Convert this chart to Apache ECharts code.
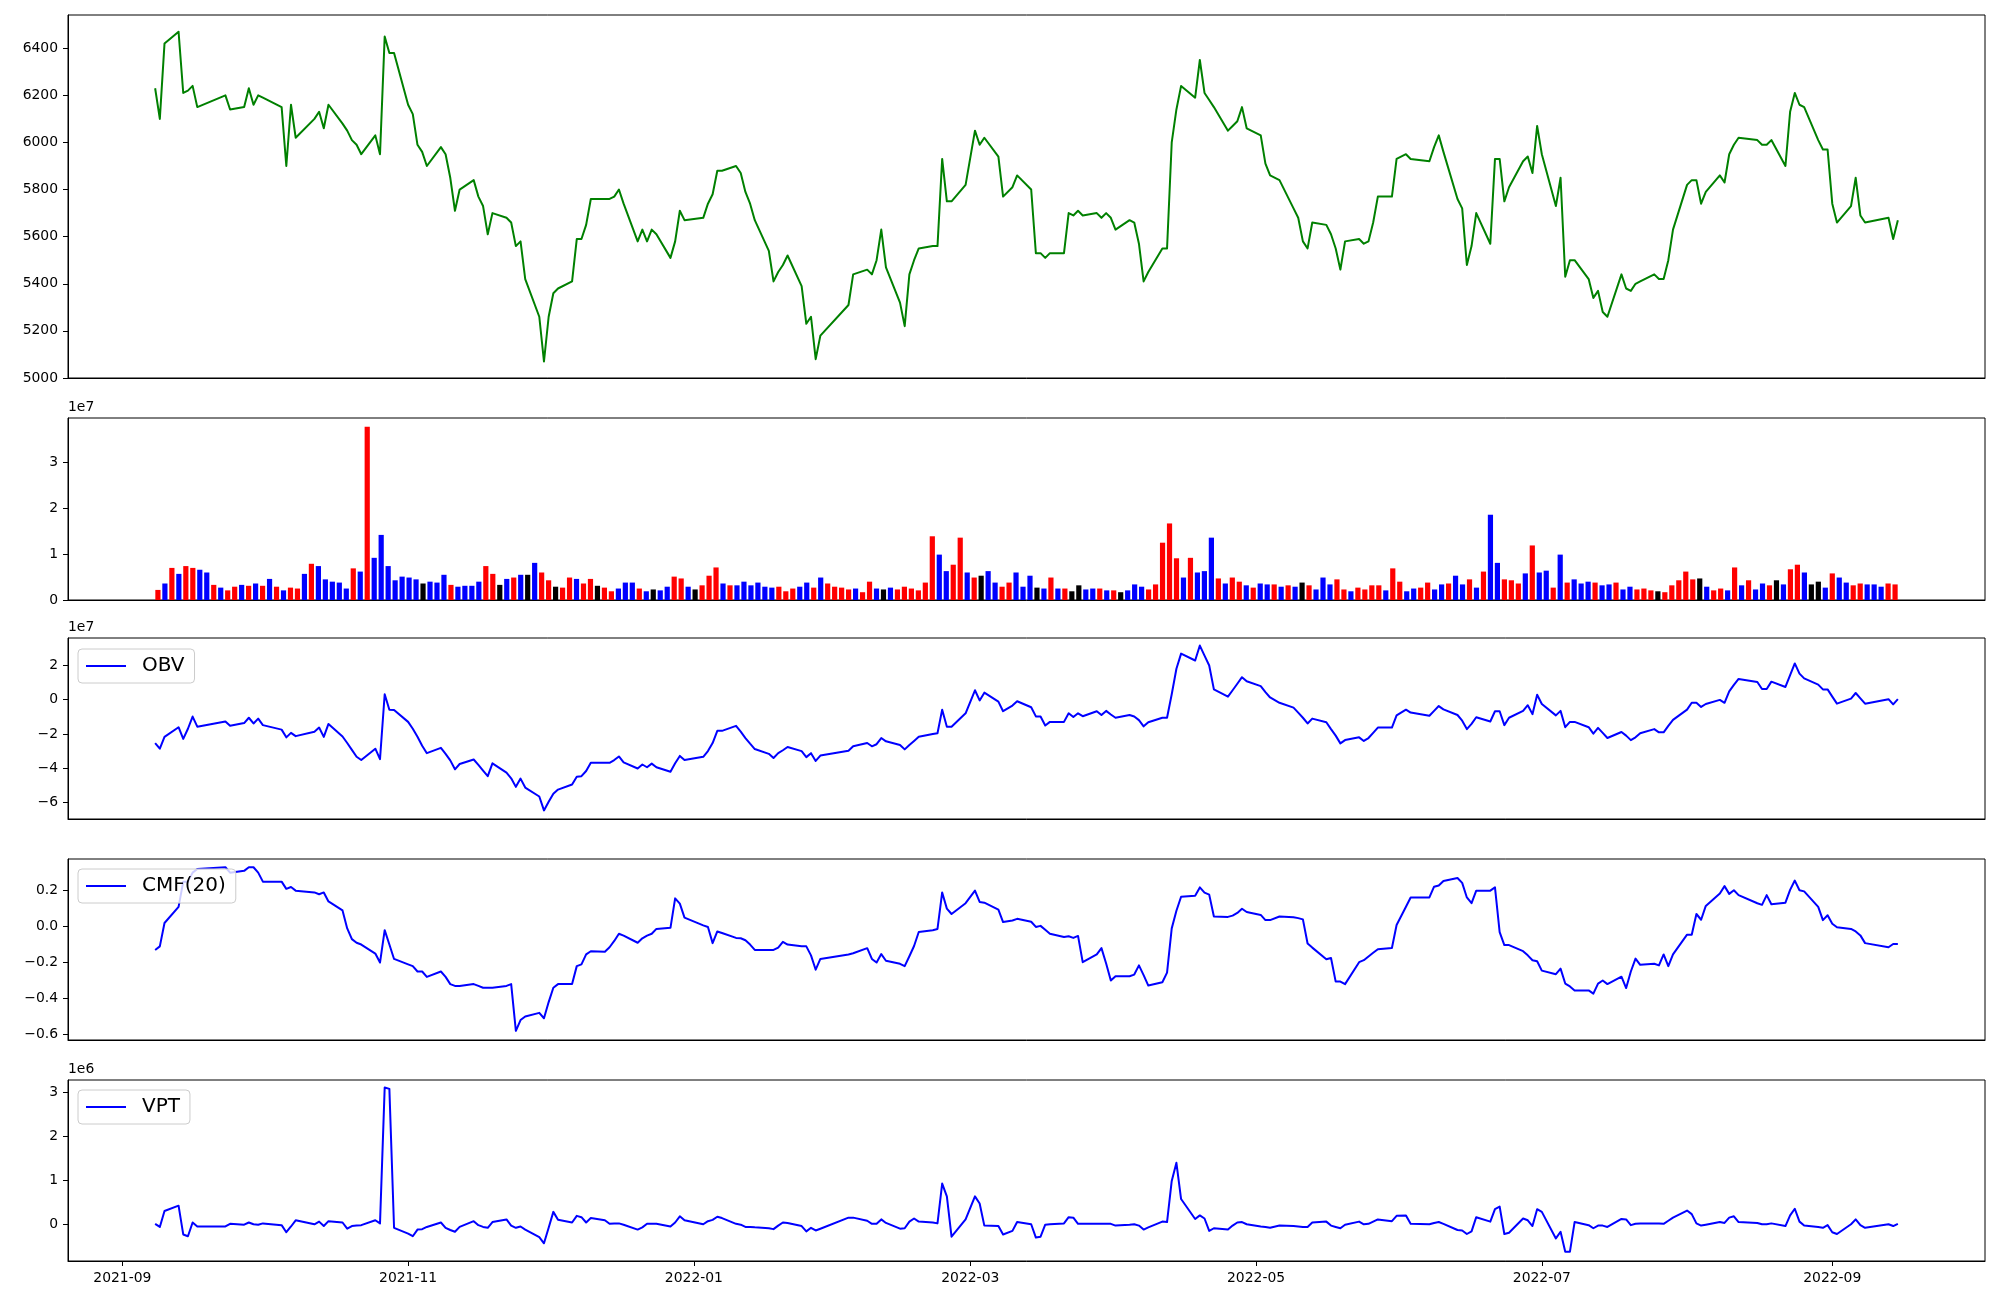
<!DOCTYPE html>
<html>
<head>
<meta charset="utf-8">
<script src="https://cdn.jsdelivr.net/npm/echarts@6/dist/echarts.min.js"></script>
<style>html,body{margin:0;padding:0;background:#fff;}#chart{width:2000px;height:1300px;}</style>
</head>
<body>
<div id="chart"></div>
<script>
// Trading days (month: day list)
const TRADING_DAYS = [
 '2021-09:8,9,10,13,14,15,16,17,23,24,27,28,29,30',
 '2021-10:1,5,6,7,8,12,13,14,15,18,19,20,21,22,25,26,27,28,29',
 '2021-11:1,2,3,4,5,8,9,10,11,12,15,16,17,18,19,22,23,24,25,26,29,30',
 '2021-12:1,2,3,6,7,8,9,10,13,14,15,16,17,20,21,22,23,24,27,28,29,30',
 '2022-01:3,4,5,6,7,10,11,12,13,14,17,18,19,20,21,24,25,26,27,28',
 '2022-02:3,4,7,8,9,10,11,14,15,16,17,18,21,22,23,24,25,28',
 '2022-03:2,3,4,7,8,10,11,14,15,16,17,18,21,22,23,24,25,28,29,30,31',
 '2022-04:1,4,5,6,7,8,11,12,13,14,15,18,19,20,21,22,25,26,27,28,29',
 '2022-05:2,3,4,6,9,10,11,12,13,16,17,18,19,20,23,24,25,26,27,30,31',
 '2022-06:2,3,7,8,9,10,13,14,15,16,17,20,21,22,23,24,27,28,29,30',
 '2022-07:1,4,5,6,7,8,11,12,13,14,15,18,19,20,21,22,25,26,27,28,29',
 '2022-08:1,2,3,4,5,8,9,10,11,12,16,17,18,19,22,23,24,25,26,29,30,31',
 '2022-09:1,2,5,6,7,8,13,14,15'
];

const CLOSE = [
 6230,6100,6420,6470,6210,6220,6240,6150,6200,6140,
 6150,6230,6160,6200,6190,6150,5900,6160,6020,6100,
 6130,6060,6160,6080,6050,6010,5990,5950,6030,5950,
 6450,6380,6380,6160,6120,5990,5960,5900,5980,5950,
 5850,5710,5800,5840,5770,5730,5610,5700,5680,5660,
 5560,5580,5420,5260,5070,5260,5360,5380,5410,5590,
 5590,5650,5760,5760,5760,5770,5800,5740,5580,5630,
 5580,5630,5610,5510,5580,5710,5670,5680,5740,5780,
 5880,5880,5900,5870,5790,5740,5670,5540,5410,5450,
 5480,5520,5390,5230,5260,5080,5180,5310,5440,5460,
 5440,5500,5630,5470,5320,5220,5440,5500,5550,5560,
 5560,5930,5750,5750,5820,6050,5990,6020,5940,5770,
 5810,5860,5800,5530,5530,5510,5530,5530,5700,5690,
 5710,5690,5700,5680,5700,5680,5630,5670,5660,5570,
 5410,5450,5550,5550,6000,6140,6240,6190,6350,6210,
 6180,6150,6050,6070,6090,6150,6060,6030,5910,5860,
 5840,5720,5680,5580,5550,5660,5650,5610,5550,5460,
 5580,5590,5570,5580,5660,5770,5770,5930,5950,5930,
 5920,5980,6030,5960,5760,5720,5480,5560,5700,5570,
 5930,5930,5750,5810,5920,5940,5870,6070,5950,5730,
 5850,5430,5500,5500,5420,5340,5370,5280,5260,5440,
 5380,5370,5400,5410,5440,5420,5420,5500,5630,5820,
 5840,5840,5740,5790,5860,5830,5950,5990,6020,6010,
 5990,5990,6010,5900,6130,6210,6160,6150,6010,5970,
 5970,5740,5660,5730,5850,5690,5660,5680,5590,5670
];

// Volume in units of 1e7
const VOLUME_E7 = [
 .22,.36,.70,.57,.74,.70,.66,.60,.33,.27,
 .21,.29,.33,.31,.36,.31,.46,.29,.21,.27,
 .25,.57,.79,.74,.45,.40,.38,.25,.69,.62,
 3.78,.92,1.42,.74,.43,.51,.49,.45,.36,.40,
 .38,.55,.33,.29,.31,.31,.40,.74,.57,.33,
 .46,.49,.55,.55,.81,.60,.43,.29,.27,.49,
 .46,.36,.46,.31,.27,.19,.25,.38,.38,.25,
 .19,.23,.21,.29,.51,.47,.29,.23,.32,.53,
 .71,.36,.32,.32,.40,.32,.38,.29,.27,.29,
 .19,.25,.29,.38,.27,.49,.36,.29,.27,.23,
 .25,.17,.40,.25,.23,.27,.23,.29,.25,.21,
 .38,1.39,.99,.63,.77,1.36,.60,.49,.53,.63,
 .38,.29,.38,.60,.29,.53,.27,.25,.49,.25,
 .25,.19,.32,.23,.25,.25,.21,.21,.17,.21,
 .34,.29,.23,.34,1.25,1.67,.91,.49,.92,.60,
 .63,1.36,.47,.36,.49,.40,.32,.27,.36,.34,
 .34,.29,.32,.29,.38,.32,.23,.49,.34,.45,
 .23,.19,.27,.23,.32,.32,.21,.69,.40,.19,
 .25,.27,.38,.23,.34,.36,.53,.34,.45,.27,
 .62,1.86,.81,.45,.43,.36,.58,1.19,.60,.64,
 .27,.99,.38,.45,.36,.40,.38,.32,.34,.38,
 .23,.29,.23,.25,.21,.19,.17,.32,.43,.62,
 .45,.47,.29,.21,.25,.21,.71,.32,.43,.23,
 .36,.32,.43,.34,.67,.77,.60,.34,.40,.27,
 .58,.49,.38,.32,.36,.34,.34,.29,.36,.34
];

// Bar colour per day: r = red, b = blue, k = black
const VOLUME_COLOR_CODES = [
 'rbrbrrbbrb','rrbrbrbrbr','rbrbbbbbrb','rbbbbbbbkb','bbrbbbbrrk',
 'brbkbrrkrr','brrkrrbbbr','bkbbrrbkrr','rbrbbbbbbr','rrbbrbrrrr',
 'brrbkbrrrr','rrbbrrbrkb','brrbbbkbrb','rkkbbrbrkb','bbrrrrrbrb',
 'bbrbrrbrbb','rbrbkrbbbr','rbrrrrbrrb','brrbbrbbrb','rbbrrrbrbb',
 'rbrbbbrbbr','bbrrrkrrrr','rkbrrbrbrb','brkbrrbkkb','rbbrrbbbrr'
];

// OBV in units of 1e7
const OBV_E7 = [
 -2.53,-2.86,-2.17,-1.61,-2.29,-1.70,-0.99,-1.58,-1.28,-1.53,
 -1.37,-1.06,-1.39,-1.11,-1.49,-1.75,-2.20,-1.94,-2.13,-1.87,
 -1.63,-2.17,-1.42,-2.15,-2.53,-2.93,-3.33,-3.52,-2.86,-3.47,
 0.31,-0.59,-0.61,-1.30,-1.70,-2.17,-2.69,-3.12,-2.81,-3.16,
 -3.54,-4.06,-3.75,-3.49,-3.80,-4.13,-4.46,-3.71,-4.25,-4.58,
 -5.08,-4.60,-5.12,-5.64,-6.45,-5.95,-5.48,-5.24,-4.94,-4.49,
 -4.46,-4.16,-3.68,-3.68,-3.68,-3.52,-3.31,-3.66,-4.01,-3.78,
 -3.94,-3.73,-3.94,-4.20,-3.71,-3.28,-3.52,-3.33,-3.00,-2.53,
 -1.82,-1.82,-1.53,-1.87,-2.24,-2.57,-2.88,-3.16,-3.40,-3.12,
 -2.95,-2.76,-3.00,-3.35,-3.12,-3.57,-3.26,-2.98,-2.72,-2.53,
 -2.72,-2.60,-2.24,-2.43,-2.64,-2.90,-2.64,-2.41,-2.17,-2.01,
 -1.96,-0.59,-1.58,-1.58,-0.80,0.54,-0.05,0.40,-0.12,-0.68,
 -0.35,-0.10,-0.45,-0.98,-0.99,-1.51,-1.30,-1.30,-0.80,-1.02,
 -0.80,-0.97,-0.68,-0.90,-0.66,-0.87,-1.06,-0.90,-0.99,-1.20,
 -1.56,-1.32,-1.06,-1.06,0.31,1.79,2.67,2.27,3.14,2.55,
 1.98,0.59,0.17,0.54,0.92,1.30,1.06,0.78,0.43,0.12,
 -0.19,-0.47,-0.76,-1.06,-1.39,-1.11,-1.32,-1.72,-2.10,-2.55,
 -2.36,-2.20,-2.41,-2.24,-1.94,-1.63,-1.63,-0.92,-0.59,-0.76,
 -0.94,-0.66,-0.38,-0.57,-0.90,-1.23,-1.72,-1.42,-1.03,-1.28,
 -0.68,-0.68,-1.49,-1.06,-0.66,-0.33,-0.85,0.28,-0.26,-0.92,
 -0.66,-1.61,-1.30,-1.30,-1.61,-1.98,-1.65,-1.94,-2.24,-1.89,
 -2.10,-2.36,-2.20,-1.96,-1.72,-1.91,-1.91,-1.53,-1.18,-0.59,
 -0.19,-0.19,-0.43,-0.26,-0.02,-0.19,0.47,0.85,1.20,1.02,
 0.61,0.61,1.04,0.73,1.42,2.10,1.51,1.23,0.87,0.59,
 0.59,0.17,-0.24,0.05,0.38,0.07,-0.24,0.02,-0.28,0.02
];

const CMF20 = [
 -0.13,-0.11,0.02,0.11,0.25,0.25,0.30,0.32,0.33,0.30,
 0.31,0.33,0.33,0.30,0.25,0.25,0.21,0.22,0.20,0.19,
 0.18,0.19,0.14,0.09,-0.01,-0.07,-0.09,-0.10,-0.15,-0.20,
 -0.02,-0.10,-0.18,-0.21,-0.22,-0.25,-0.25,-0.28,-0.25,-0.28,
 -0.32,-0.33,-0.33,-0.32,-0.33,-0.34,-0.34,-0.34,-0.33,-0.32,
 -0.58,-0.52,-0.50,-0.48,-0.51,-0.42,-0.34,-0.32,-0.32,-0.22,
 -0.21,-0.155,-0.137,-0.14,-0.115,-0.08,-0.04,-0.05,-0.09,-0.065,
 -0.05,-0.04,-0.013,-0.007,0.157,0.128,0.05,0.007,-0.002,-0.092,
 -0.027,-0.036,-0.063,-0.065,-0.076,-0.10,-0.13,-0.13,-0.13,-0.117,
 -0.085,-0.10,-0.11,-0.11,-0.16,-0.24,-0.18,-0.155,-0.148,-0.12,
 -0.18,-0.20,-0.153,-0.19,-0.207,-0.22,-0.165,-0.108,-0.03,-0.02,
 -0.013,0.19,0.10,0.07,0.13,0.20,0.137,0.133,0.094,0.025,
 0.034,0.043,0.027,-0.002,0.004,-0.018,-0.04,-0.058,-0.054,-0.063,
 -0.052,-0.198,-0.155,-0.12,-0.205,-0.30,-0.276,-0.276,-0.267,-0.216,
 -0.27,-0.328,-0.31,-0.256,-0.01,0.088,0.166,0.171,0.218,0.189,
 0.178,0.056,0.054,0.061,0.076,0.099,0.081,0.065,0.036,0.036,
 0.056,0.052,0.047,0.04,-0.094,-0.117,-0.182,-0.175,-0.306,-0.306,
 -0.32,-0.198,-0.187,-0.166,-0.146,-0.126,-0.119,0.009,0.11,0.162,
 0.162,0.222,0.229,0.254,0.27,0.243,0.162,0.13,0.20,0.20,
 0.218,-0.031,-0.103,-0.103,-0.137,-0.16,-0.187,-0.193,-0.245,-0.265,
 -0.234,-0.317,-0.333,-0.355,-0.355,-0.373,-0.317,-0.30,-0.32,-0.279,
 -0.342,-0.25,-0.178,-0.213,-0.207,-0.216,-0.155,-0.22,-0.155,-0.045,
 -0.045,0.07,0.038,0.115,0.184,0.225,0.182,0.202,0.175,0.13,
 0.121,0.175,0.124,0.133,0.204,0.256,0.202,0.196,0.11,0.036,
 0.063,0.016,-0.004,-0.013,-0.027,-0.049,-0.092,-0.115,-0.097,-0.097
];

// VPT in units of 1e6
const VPT_E6 = [
 0.02,-0.05,0.31,0.43,-0.22,-0.26,0.05,-0.04,-0.04,0.02,
 0.00,0.05,0.01,0.00,0.03,-0.01,-0.17,-0.04,0.10,0.01,
 0.07,-0.03,0.08,0.05,-0.09,-0.03,-0.02,-0.01,0.10,0.03,
 3.10,3.07,-0.07,-0.20,-0.26,-0.11,-0.10,-0.05,0.05,-0.07,
 -0.12,-0.16,-0.05,0.08,-0.01,-0.05,-0.07,0.06,0.12,-0.02,
 -0.07,-0.04,-0.11,-0.28,-0.42,-0.07,0.29,0.11,0.05,0.20,
 0.17,0.05,0.15,0.10,0.02,0.03,0.03,0.00,-0.11,-0.06,
 0.02,0.02,0.02,-0.04,0.05,0.19,0.10,0.01,0.08,0.11,
 0.18,0.15,0.02,0.00,-0.05,-0.05,-0.06,-0.08,-0.10,-0.02,
 0.05,0.04,-0.03,-0.15,-0.07,-0.13,-0.09,0.16,0.16,0.09,
 0.02,0.02,0.12,0.04,-0.09,-0.08,0.07,0.14,0.07,0.05,
 0.03,0.93,0.64,-0.27,0.12,0.64,0.48,-0.02,-0.03,-0.22,
 -0.14,0.06,0.01,-0.29,-0.27,0.00,0.01,0.03,0.17,0.16,
 0.02,0.02,0.02,0.02,0.02,0.02,-0.02,0.00,0.01,-0.02,
 -0.11,-0.06,0.07,0.06,0.99,1.40,0.58,0.13,0.21,0.14,
 -0.14,-0.08,-0.11,-0.02,0.05,0.06,0.01,-0.04,-0.05,-0.07,
 -0.02,-0.03,-0.04,-0.05,-0.05,0.05,0.07,-0.02,-0.05,-0.08,
 0.00,0.07,0.01,0.02,0.07,0.12,0.08,0.20,0.21,0.02,
 0.01,0.04,0.06,0.02,-0.12,-0.13,-0.21,-0.15,0.17,0.07,
 0.35,0.41,-0.21,-0.18,0.14,0.10,-0.03,0.35,0.29,-0.31,
 -0.16,-0.61,-0.61,0.06,-0.01,-0.08,-0.02,-0.02,-0.05,0.13,
 0.12,-0.01,0.02,0.03,0.03,0.03,0.02,0.09,0.16,0.32,
 0.24,0.03,-0.02,0.00,0.06,0.04,0.16,0.19,0.06,0.04,
 0.01,0.01,0.03,-0.03,0.21,0.36,0.07,-0.02,-0.05,-0.07,
 -0.01,-0.17,-0.21,0.01,0.12,-0.01,-0.07,0.01,-0.03,0.02
];

const PRICE_TICKS = [5000,5200,5400,5600,5800,6000,6200,6400];
const VOLUME_TICKS = [0,1,2,3];
const OBV_TICKS = [-6,-4,-2,0,2];
const CMF_TICKS = [-0.6,-0.4,-0.2,0.0,0.2];
const VPT_TICKS = [0,1,2,3];
const DATE_TICKS = ['2021-09-01','2021-11-01','2022-01-01','2022-03-01','2022-05-01','2022-07-01','2022-09-01'];

// ---------- build ----------
function ts(s){ const p = s.split('-').map(Number); return Date.UTC(p[0], p[1]-1, p[2]); }
const DATES = [];
TRADING_DAYS.forEach(row => {
  const [ym, days] = row.split(':');
  days.split(',').forEach(d => DATES.push(ts(ym + '-' + d)));
});
const VOL_COLORS = VOLUME_COLOR_CODES.join('').split('').map(c => c === 'r' ? '#ff0000' : (c === 'b' ? '#0000ff' : '#000000'));
[CLOSE, VOLUME_E7, OBV_E7, CMF20, VPT_E6, VOL_COLORS].forEach((a, k) => {
  if (a.length !== DATES.length) throw new Error('length mismatch ' + k + ': ' + a.length + ' vs ' + DATES.length);
});

const span = DATES[DATES.length-1] - DATES[0];
const T0 = DATES[0] - 0.05*span, T1 = DATES[DATES.length-1] + 0.05*span;
const N = DATES.length;
const IDX0 = -0.4 - 0.05*(N - 1 + 0.8), IDX1 = N - 1 + 0.4 + 0.05*(N - 1 + 0.8);
const DATE_TICK_VALUES = DATE_TICKS.map(ts);

const FONT = 'DejaVu Sans';
const minus = v => (v < 0 ? '\u2212' : '') + Math.abs(v);
const L = 68, R = 15;
const gridDefs = [
  {top: 15, height: 363},
  {top: 418, height: 182},
  {top: 638, height: 181},
  {top: 859, height: 181},
  {top: 1080, height: 181}
];
const grid = gridDefs.map(g => ({left: L, right: R, top: g.top, height: g.height, show: true,
  borderColor: '#000', borderWidth: 1, backgroundColor: 'transparent', containLabel: false}));

function dateAxis(gi, showLabels){
  return {type: 'value', gridIndex: gi, min: T0, max: T1, scale: true,
    axisLine: {show: true, onZero: false, lineStyle: {color: '#000', width: 1}},
    axisTick: {show: showLabels, length: 5, inside: false, lineStyle: {color: '#000', width: 1},
      customValues: DATE_TICK_VALUES},
    axisLabel: {show: showLabels, customValues: DATE_TICK_VALUES, color: '#000', fontSize: 13.9, fontFamily: FONT, margin: 10,
      formatter: v => { const d = new Date(v); return d.getUTCFullYear() + '-' + String(d.getUTCMonth()+1).padStart(2,'0'); }},
    splitLine: {show: false}};
}
function valAxis(gi, min, max, ticks, fmt){
  return {type: 'value', gridIndex: gi, min: min, max: max,
    axisLine: {show: true, onZero: false, lineStyle: {color: '#000', width: 1}},
    axisTick: {show: true, length: 5, inside: false, lineStyle: {color: '#000', width: 1}, customValues: ticks},
    axisLabel: {show: true, customValues: ticks, color: '#000', fontSize: 13.9, fontFamily: FONT, margin: 10, formatter: fmt},
    splitLine: {show: false}};
}

const xAxis = [
  dateAxis(0, false),
  {type: 'value', gridIndex: 1, min: IDX0, max: IDX1,
    axisLine: {show: true, onZero: false, lineStyle: {color: '#000'}}, axisTick: {show: false}, axisLabel: {show: false}, splitLine: {show: false}},
  dateAxis(2, false),
  dateAxis(3, false),
  dateAxis(4, true)
];
const yAxis = [
  valAxis(0, 5000, 6541, PRICE_TICKS, v => String(v)),
  valAxis(1, 0, 3.97, VOLUME_TICKS, v => String(v)),
  valAxis(2, -6.95, 3.58, OBV_TICKS, v => minus(v)),
  valAxis(3, -0.631, 0.376, CMF_TICKS, v => (v < 0 ? '\u2212' : '') + Math.abs(v).toFixed(1)),
  valAxis(4, -0.82, 3.27, VPT_TICKS, v => String(v))
];

function lineSeries(name, xi, values, color){
  return {name: name, type: 'line', xAxisIndex: xi, yAxisIndex: xi, showSymbol: false, symbol: 'none',
    animation: false, silent: true, color: color,
    lineStyle: {width: 2, color: color, join: 'round'},
    data: DATES.map((t, i) => [t, values[i]])};
}

const series = [
  lineSeries('Close', 0, CLOSE, '#008000'),
  {name: 'Volume', type: 'bar', xAxisIndex: 1, yAxisIndex: 1, barWidth: 5.2, animation: false, silent: true,
    data: VOLUME_E7.map((v, i) => ({value: [i, v], itemStyle: {color: VOL_COLORS[i]}}))},
  lineSeries('OBV', 2, OBV_E7, '#0000ff'),
  lineSeries('CMF(20)', 3, CMF20, '#0000ff'),
  lineSeries('VPT', 4, VPT_E6, '#0000ff')
];

function legendAt(name, top){
  return {data: [name], left: 78, top: top, orient: 'horizontal', icon: 'rect', itemWidth: 40, itemHeight: 2,
    padding: [7, 10, 7, 8], backgroundColor: 'rgba(255,255,255,0.8)', borderColor: '#cccccc', borderWidth: 1,
    borderRadius: 4, selectedMode: false,
    textStyle: {fontSize: 20, fontFamily: FONT, color: '#000', padding: [0, 0, 0, 11]}};
}

const option = {
  animation: false,
  backgroundColor: '#ffffff',
  textStyle: {fontFamily: FONT},
  grid: grid,
  xAxis: xAxis,
  yAxis: yAxis,
  series: series,
  legend: [legendAt('OBV', 649), legendAt('CMF(20)', 869), legendAt('VPT', 1090)],
  graphic: [
    {type: 'text', left: 68, top: 400, style: {text: '1e7', font: '13.9px "DejaVu Sans"', fill: '#000'}},
    {type: 'text', left: 68, top: 620, style: {text: '1e7', font: '13.9px "DejaVu Sans"', fill: '#000'}},
    {type: 'text', left: 68, top: 1062, style: {text: '1e6', font: '13.9px "DejaVu Sans"', fill: '#000'}}
  ]
};

const chart = echarts.init(document.getElementById('chart'), null, {renderer: 'canvas', width: 2000, height: 1300});
chart.setOption(option);
</script>
</body>
</html>
